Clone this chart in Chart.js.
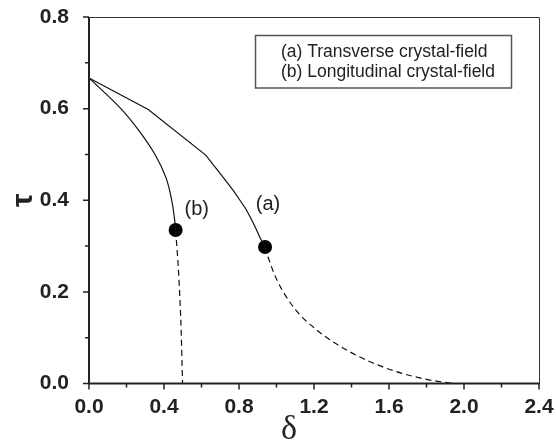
<!DOCTYPE html>
<html>
<head>
<meta charset="utf-8">
<script src="https://cdn.jsdelivr.net/npm/chart.js@4/dist/chart.umd.min.js"></script>
<style>
  html, body { margin: 0; padding: 0; background: #fff; }
</style>
</head>
<body>
<canvas id="c" width="556" height="442"></canvas>
<script>
// tick labels
var xTicks = [0, 0.4, 0.8, 1.2, 1.6, 2.0, 2.4];
var yTicks = [0, 0.2, 0.4, 0.6, 0.8];

// (a) transverse crystal-field, solid part (down to the black dot)
var aSolidX = [0, 0.316, 0.624, 0.663, 0.700, 0.734, 0.770, 0.805, 0.835, 0.859, 0.880, 0.898, 0.915, 0.939];
var aSolidY = [0.667, 0.598, 0.498, 0.477, 0.458, 0.440, 0.421, 0.400, 0.382, 0.364, 0.347, 0.331, 0.316, 0.298];
// (a) dashed part
var aDashX = [0.939, 0.956, 1.0, 1.09, 1.214, 1.392, 1.588, 1.80, 1.95];
var aDashY = [0.298, 0.275, 0.228, 0.167, 0.117, 0.069, 0.033, 0.009, 0.0];

// (b) longitudinal crystal-field, solid part
var bSolidX = [0, 0.17, 0.27, 0.352, 0.41, 0.441, 0.456, 0.462];
var bSolidY = [0.667, 0.600, 0.550, 0.500, 0.450, 0.400, 0.360, 0.335];
// (b) dashed part
var bDashX = [0.462, 0.476, 0.489, 0.499];
var bDashY = [0.335, 0.255, 0.146, 0.0];

// black dots where solid turns to dashed
var dotX = [0.939, 0.462];
var dotY = [0.298, 0.335];

// curve labels
var curveLabels = ['(a)', '(b)'];
var curveLabelX = [0.955, 0.575];
var curveLabelY = [0.39, 0.38];

var legendLines = ['(a) Transverse crystal-field', '(b) Longitudinal crystal-field'];
var xTitle = 'δ';

function pts(xs, ys) {
  return xs.map(function (x, i) { return { x: x, y: ys[i] }; });
}

var sans = "'Liberation Sans', Arial, sans-serif";

var extras = {
  id: 'extras',
  afterDraw: function (chart) {
    var ctx = chart.ctx;
    var a = chart.chartArea;
    var xs = chart.scales.x, ys = chart.scales.y;
    ctx.save();
    // top & right frame
    ctx.strokeStyle = '#333';
    ctx.lineWidth = 1;
    ctx.beginPath();
    ctx.moveTo(a.left, a.top + 0.5);
    ctx.lineTo(a.right + 0.5, a.top + 0.5);
    ctx.lineTo(a.right + 0.5, a.bottom);
    ctx.stroke();
    // left & bottom axes
    ctx.strokeStyle = '#222';
    ctx.lineWidth = 2;
    ctx.beginPath();
    ctx.moveTo(a.left, a.top);
    ctx.lineTo(a.left, a.bottom);
    ctx.lineTo(a.right + 1, a.bottom);
    ctx.stroke();
    // ticks, major + minor
    ctx.lineWidth = 1.5;
    ctx.beginPath();
    xTicks.forEach(function (v, i) {
      var p = xs.getPixelForValue(v);
      ctx.moveTo(p, a.bottom); ctx.lineTo(p, a.bottom + 6);
      if (i < xTicks.length - 1) {
        var m = xs.getPixelForValue((v + xTicks[i + 1]) / 2);
        ctx.moveTo(m, a.bottom); ctx.lineTo(m, a.bottom + 4);
      }
    });
    yTicks.forEach(function (v, i) {
      var p = ys.getPixelForValue(v);
      ctx.moveTo(a.left, p); ctx.lineTo(a.left - 6, p);
      if (i < yTicks.length - 1) {
        var m = ys.getPixelForValue((v + yTicks[i + 1]) / 2);
        ctx.moveTo(a.left, m); ctx.lineTo(a.left - 4, m);
      }
    });
    ctx.stroke();
    // curve labels
    ctx.fillStyle = '#222';
    ctx.font = '20px ' + sans;
    ctx.textAlign = 'center';
    ctx.textBaseline = 'middle';
    curveLabels.forEach(function (t, i) {
      ctx.fillText(t, xs.getPixelForValue(curveLabelX[i]), ys.getPixelForValue(curveLabelY[i]));
    });
    // x axis title (sits left of centre in the original)
    ctx.font = "34px 'Liberation Serif', 'Times New Roman', serif";
    ctx.textBaseline = 'alphabetic';
    ctx.fillText(xTitle, 289, 439);
    // legend box
    ctx.strokeStyle = '#555';
    ctx.lineWidth = 1.5;
    ctx.strokeRect(255.5, 35.5, 256, 52.5);
    ctx.font = '17.5px ' + sans;
    ctx.textAlign = 'left';
    ctx.textBaseline = 'middle';
    legendLines.forEach(function (t, i) {
      ctx.fillText(t, 281, 52 + i * 20);
    });
    ctx.restore();
  }
};

new Chart(document.getElementById('c'), {
  type: 'scatter',
  data: {
    datasets: [
      { data: pts(aSolidX, aSolidY), showLine: true, borderColor: '#111', borderWidth: 1.2, pointRadius: 0, tension: 0 },
      { data: pts(aDashX, aDashY), showLine: true, borderColor: '#111', borderWidth: 1.2, borderDash: [6, 4], pointRadius: 0, cubicInterpolationMode: 'monotone' },
      { data: pts(bSolidX, bSolidY), showLine: true, borderColor: '#111', borderWidth: 1.2, pointRadius: 0, tension: 0.4 },
      { data: pts(bDashX, bDashY), showLine: true, borderColor: '#111', borderWidth: 1.2, borderDash: [6, 4], pointRadius: 0, tension: 0.3 },
      { data: pts(dotX, dotY), showLine: false, pointRadius: 7, pointBackgroundColor: '#000', pointBorderColor: '#000', pointBorderWidth: 0 }
    ]
  },
  options: {
    responsive: false,
    animation: false,
    clip: false,
    layout: { padding: { top: 17, right: 17, left: 0, bottom: 0 } },
    plugins: { legend: { display: false }, tooltip: { enabled: false } },
    scales: {
      x: {
        type: 'linear', min: 0, max: 2.4,
        afterBuildTicks: function (s) { s.ticks = xTicks.map(function (v) { return { value: v }; }); },
        afterFit: function (s) { s.height = 58.5; s.paddingLeft = 0; s.paddingRight = 0; },
        grid: { display: false },
        border: { display: false },
        ticks: {
          color: '#222', padding: 3,
          font: { family: sans, size: 21, weight: 'bold' },
          callback: function (v) { return v.toFixed(1); }
        }
      },
      y: {
        type: 'linear', min: 0, max: 0.8,
        afterBuildTicks: function (s) { s.ticks = yTicks.map(function (v) { return { value: v }; }); },
        afterFit: function (s) { s.width = 89; s.paddingTop = 0; s.paddingBottom = 0; },
        grid: { display: false },
        border: { display: false },
        ticks: {
          color: '#222', padding: 12,
          font: { family: sans, size: 21, weight: 'bold' },
          callback: function (v) { return v.toFixed(1); }
        },
        title: {
          display: true, text: 'τ', color: '#222',
          font: { family: sans, size: 30, weight: 'bold', lineHeight: 1 },
          padding: { top: 9, bottom: 0 }
        }
      }
    }
  },
  plugins: [extras]
});
</script>
</body>
</html>
